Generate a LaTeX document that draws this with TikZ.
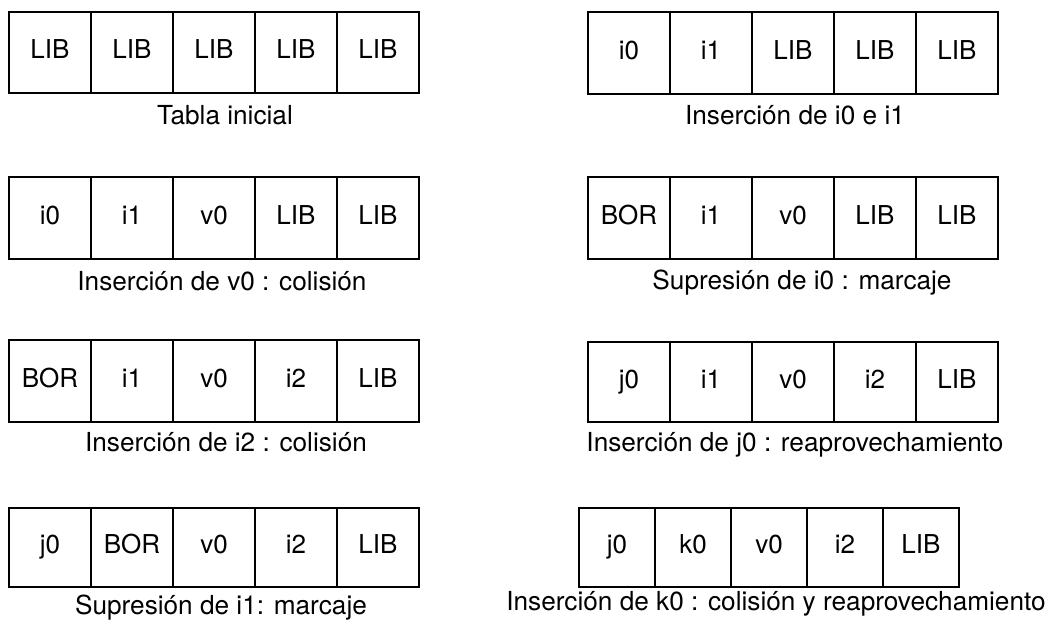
\documentclass[tikz,border=0pt]{standalone}
\usepackage{fontspec}
\setmainfont{TeX Gyre Heros}

\tikzset{
  celda/.style={draw, line width=2.2pt, outer sep=0pt, inner sep=0pt,
    minimum width=82pt, minimum height=81pt, anchor=north west,
    text height=18pt, text depth=6pt, font=\fontsize{26}{30}\selectfont},
  pie/.style={anchor=base, inner sep=0pt, font=\fontsize{26.2}{30}\selectfont}
}

\begin{document}
\begin{tikzpicture}[x=1pt, y=-1pt]
  \useasboundingbox (0,0) rectangle (1060,619);

  % Tabla inicial
  \foreach \v [count=\i] in {LIB,LIB,LIB,LIB,LIB}
    \node[celda] (a\i) at ({9+82*(\i-1)},12) {\v};
  \node[pie] (pa) at (225,124) {Tabla inicial};

  % Insercion de i0 e i1
  \foreach \v [count=\i] in {i0,i1,LIB,LIB,LIB}
    \node[celda, minimum height=82pt] (b\i) at ({588+82*(\i-1)},12) {\v};
  \node[pie] (pb) at (795,124) {Inserción de i0 e i1};

  % Insercion de v0
  \foreach \v [count=\i] in {i0,i1,v0,LIB,LIB}
    \node[celda, minimum height=82pt] (c\i) at ({9+82*(\i-1)},177) {\v};
  \node[pie] (pc) at (222,290) {Inserción de v0 : colisión};

  % Supresion de i0
  \foreach \v [count=\i] in {BOR,i1,v0,LIB,LIB}
    \node[celda, minimum height=82pt] (d\i) at ({588+82*(\i-1)},177) {\v};
  \node[pie] (pd) at (802,289) {Supresión de i0 : marcaje};

  % Insercion de i2
  \foreach \v [count=\i] in {BOR,i1,v0,i2,LIB}
    \node[celda, minimum height=82pt] (e\i) at ({9+82*(\i-1)},340) {\v};
  \node[pie] (pe) at (226,451) {Inserción de i2 : colisión};

  % Insercion de j0
  \foreach \v [count=\i] in {j0,i1,v0,i2,LIB}
    \node[celda, minimum height=80pt] (f\i) at ({588+82*(\i-1)},342) {\v};
  \node[pie] (pf) at (795,451) {Inserción de j0 : reaprovechamiento};

  % Supresion de i1
  \foreach \v [count=\i] in {j0,BOR,v0,i2,LIB}
    \node[celda, minimum height=79pt] (g\i) at ({9+82*(\i-1)},508) {\v};
  \node[pie] (pg) at (221,614) {Supresión de i1: marcaje};

  % Insercion de k0
  \foreach \v [count=\i] in {j0,k0,v0,i2,LIB}
    \node[celda, minimum width=76pt, minimum height=79pt] (h\i) at ({579+76*(\i-1)},508) {\v};
  \node[pie] (ph) at (776,610) {Inserción de k0 : colisión y reaprovechamiento};
\end{tikzpicture}
\end{document}
